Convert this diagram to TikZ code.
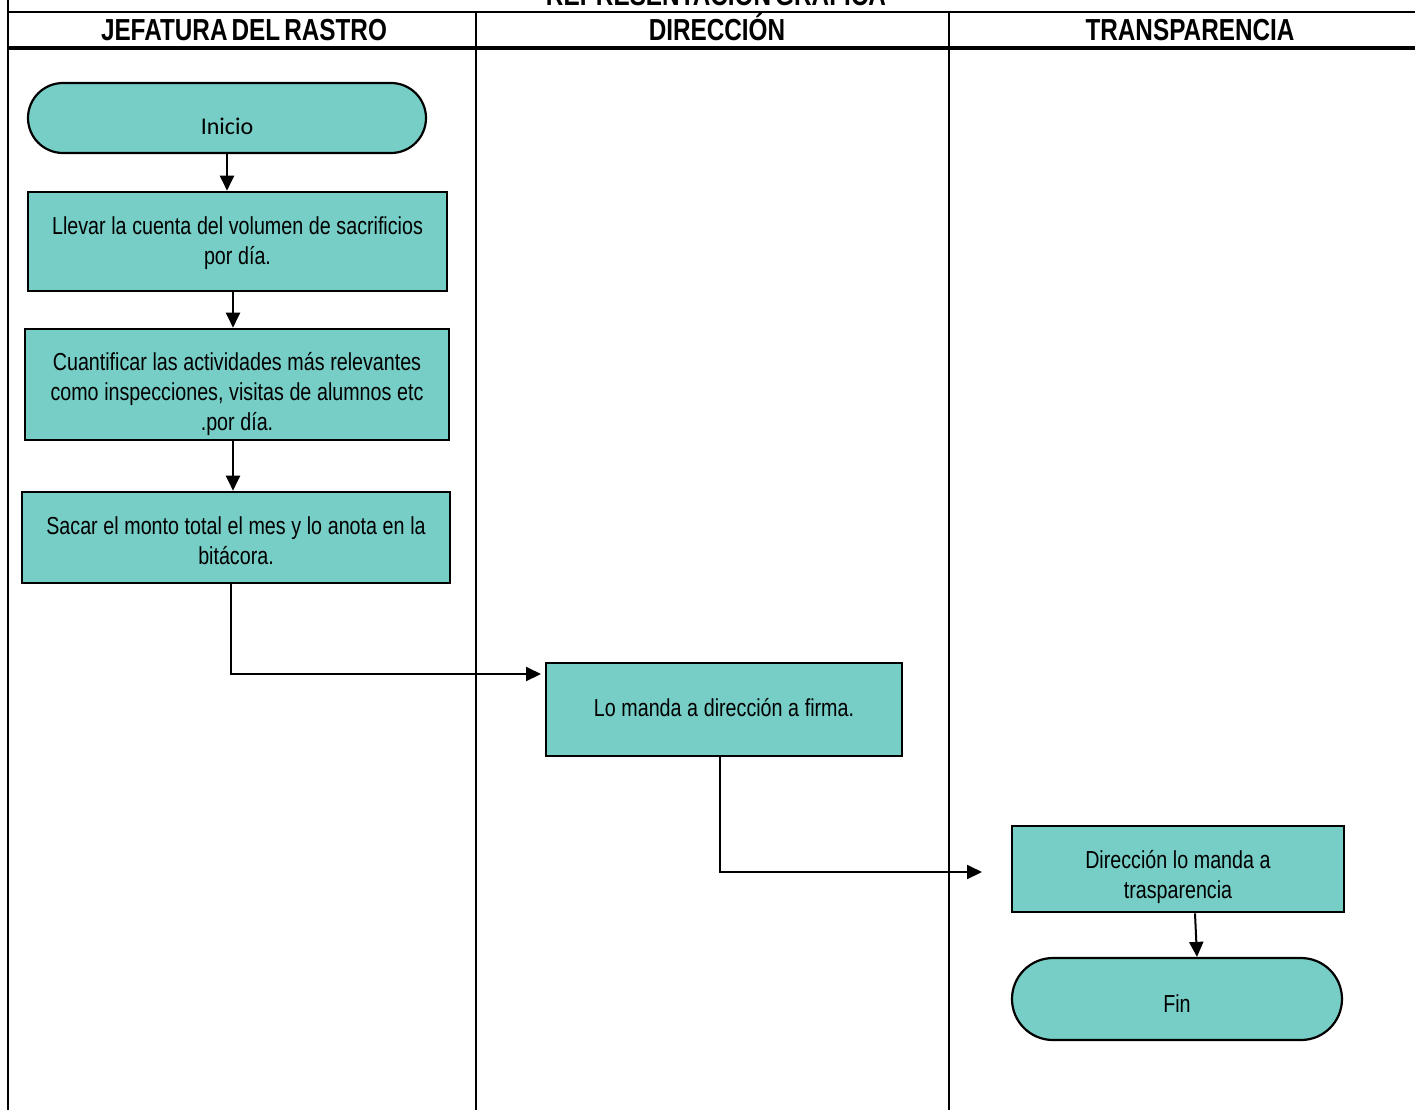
\documentclass[tikz,border=0pt]{standalone}
\usepackage{fontspec}
\setmainfont{Liberation Sans}[FakeStretch=0.8,WordSpace=0.6]
\newfontfamily\calfont{Carlito}
\usetikzlibrary{arrows.meta,shapes.misc}
\definecolor{boxfill}{RGB}{118,206,198}
\begin{document}
\begin{tikzpicture}[x=0.5pt,y=-0.5pt,
  procbox/.style={draw=black,line width=1.3pt,fill=boxfill,inner sep=0pt,align=center,font=\fontsize{12.3}{15}\selectfont,
    execute at begin node={\spaceskip=0.23em\relax}},
  termbox/.style={draw=black,line width=1.1pt,fill=boxfill,rounded rectangle,inner sep=0pt,align=center,font=\fontsize{12.3}{15}\selectfont},
  conn/.style={line width=1pt,-{Triangle[length=7.5pt,width=7pt]}},
  lane/.style={line width=1pt},
  hdr/.style={font=\bfseries\fontsize{15.2}{18}\selectfont,inner sep=0pt,anchor=base}]
\useasboundingbox (0,0) rectangle (1415,1110);
% frame and lanes
\draw[lane] (8,0) -- (8,1110);
\draw[lane] (8,12) -- (1415,12);
\draw[line width=1.6pt] (8,48) -- (1415,48);
\draw[lane] (476,12) -- (476,1110);
\draw[lane] (949,12) -- (949,1110);
\node[hdr] (title) at (716,5) {REPRESENTACIÓN GRÁFICA};
\node[hdr] (h1) at (244,40) {JEFATURA DEL RASTRO};
\node[hdr] (h2) at (717,40) {DIRECCIÓN};
\node[hdr] (h3) at (1190,40) {TRANSPARENCIA};
% nodes
\node[termbox,minimum width=199pt,minimum height=35pt,font=\calfont\fontsize{12}{14}\selectfont,text height=16pt,text depth=0pt] (inicio) at (227,118) {Inicio};
\node[procbox,minimum width=209.5pt,minimum height=49.5pt,text width=205pt,text height=0pt,text depth=7.5pt] (b1) at (237.5,241.5) {Llevar la cuenta del volumen de sacrificios\\por día.};
\node[procbox,minimum width=212pt,minimum height=55.5pt,text width=208pt,text height=0pt,text depth=14.5pt] (b2) at (237,384.5) {Cuantificar las actividades más relevantes\\como inspecciones, visitas de alumnos etc\\.por día.};
\node[procbox,minimum width=214pt,minimum height=45.5pt,text width=210pt,text height=0pt,text depth=3.5pt] (b3) at (236,537.5) {Sacar el monto total el mes y lo anota en la\\bitácora.};
\node[procbox,minimum width=178pt,minimum height=46.5pt,text width=170pt,text height=6.5pt,text depth=0pt] (b4) at (724,709.5) {Lo manda a dirección a firma.};
\node[procbox,minimum width=166pt,minimum height=43pt,text width=160pt,text height=0pt,text depth=1pt] (b5) at (1178,869) {Dirección lo manda a\\trasparencia};
\node[termbox,minimum width=165pt,minimum height=41pt,text height=13pt,text depth=0pt] (fin) at (1177,999) {Fin};
\coordinate (e4) at (541,674);
\coordinate (e5) at (982,872);
% connectors
\draw[conn] (inicio.south) -- (inicio.south |- b1.north);
\draw[conn] (b1.south -| 233,0) -- (b2.north -| 233,0);
\draw[conn] (b2.south -| 233,0) -- (b3.north -| 233,0);
\draw[conn] (b3.south -| 231,0) |- (e4);
\draw[conn] (b4.south -| 720,0) |- (e5);
\draw[conn] (b5.south -| 1195,0) -- (fin.north -| 1197,0);
\end{tikzpicture}
\end{document}
